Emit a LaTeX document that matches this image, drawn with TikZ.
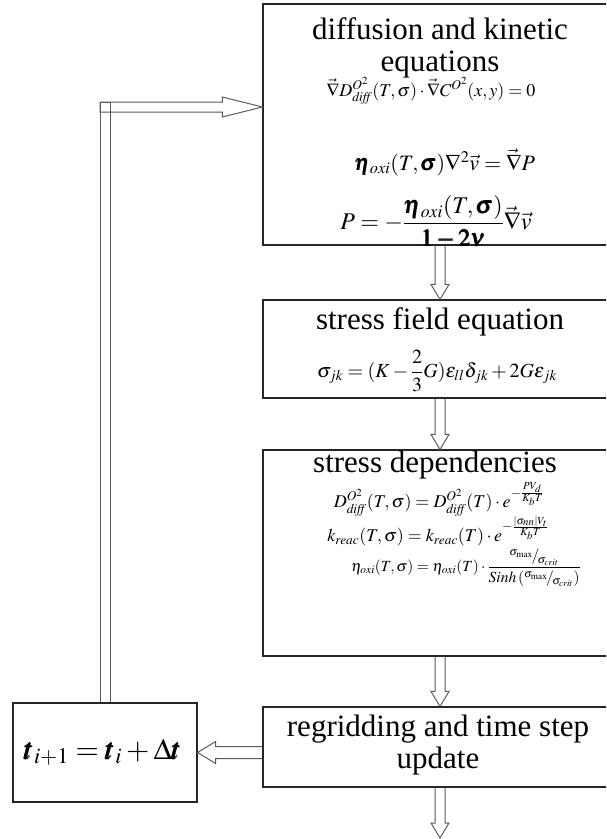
\documentclass[tikz,border=0pt]{standalone}
\usepackage{amsmath}
\usepackage{mathptmx}
\usepackage{fontspec}
\setmainfont{Liberation Serif}
\usetikzlibrary{calc}

\newcommand{\downflow}[2]{%
  \draw[flow] ($(#1)+(-5,0)$) -- ($(#2)+(-5,-15)$) -- ($(#2)+(-9,-15)$) -- (#2)
    -- ($(#2)+(9,-15)$) -- ($(#2)+(5,-15)$) -- ($(#1)+(5,0)$);}
\newcommand{\slfrac}[2]{{}^{#1}\!/\!{}_{#2}}

\begin{document}
\begin{tikzpicture}[x=1pt,y=-1pt,
  box/.style={draw=black!85,line width=1.2pt,minimum width=354pt},
  title/.style={font=\fontsize{31}{32}\selectfont,align=center,inner sep=0pt},
  eqn/.style={font=\fontsize{18}{20}\selectfont,inner sep=0pt},
  flow/.style={draw=black!65,line width=1pt}]
\useasboundingbox (0,0) rectangle (606,839);
\clip (0,0) rectangle (606,839);
\node[box,minimum height=241pt] (diff) at (440,124.5) {};
\node[box,minimum height=98pt] (field) at (440,349) {};
\node[box,minimum height=206pt] (depend) at (440,553) {};
\node[box,minimum height=80pt] (regrid) at (440,747) {};
\node[box,minimum width=184pt,minimum height=99pt] (tstep) at (105,752.5) {};

\node[title] (diffT) at (440,48) {diffusion and kinetic\\equations};
\node[eqn] (diffE1) at (431,91) {$\vec{\nabla}D^{O^2}_{\mathit{diff}}(T,\sigma)\cdot\vec{\nabla}C^{O^2}(x,y)=0$};
\node[eqn,font=\fontsize{22}{24}\selectfont] (diffE2) at (445,162) {$\pmb{\eta}_{oxi}(T,\pmb{\sigma})\nabla^2\vec{v}=\vec{\nabla}P$};
\node[eqn,font=\fontsize{24}{26}\selectfont] (diffE3) at (436,222) {$P=-\dfrac{\pmb{\eta}_{oxi}(T,\pmb{\sigma})}{\pmb{1-2\nu}}\vec{\nabla}\vec{v}$};
\node[title] (fieldT) at (440,322) {stress field equation};
\node[eqn,font=\fontsize{20}{22}\selectfont] (fieldE) at (437,371) {$\sigma_{jk}=(K-\dfrac{2}{3}G)\varepsilon_{ll}\delta_{jk}+2G\varepsilon_{jk}$};
\node[title] (dependT) at (435,465) {stress dependencies};
\node[eqn] (dependE1) at (439,499) {$D^{O^2}_{\mathit{diff}}(T,\sigma)=D^{O^2}_{\mathit{diff}}(T)\cdot e^{-\frac{PV_d}{K_bT}}$};
\node[eqn] (dependE2) at (438,531) {$k_{reac}(T,\sigma)=k_{reac}(T)\cdot e^{-\frac{|\sigma_{nn}|V_t}{K_bT}}$};
\node[eqn,font=\fontsize{15.5}{17}\selectfont] (dependE3) at (466,568) {$\eta_{oxi}(T,\sigma)=\eta_{oxi}(T)\cdot\dfrac{\slfrac{\sigma_{\max}}{\sigma_{crit}}}{\mathit{Sinh}\left(\slfrac{\sigma_{\max}}{\sigma_{crit}}\right)}$};
\node[title] (regridT) at (438,745) {regridding and time step\\update};
\node[font=\fontsize{30}{32}\selectfont,inner sep=0pt] (tstepT) at (103,752) {$\pmb{t}_{i+1}=\pmb{t}_i+\Delta\pmb{t}$};

\downflow{diff.south}{field.north}
\downflow{field.south}{depend.north}
\downflow{depend.south}{regrid.north}
\coordinate (exit) at (440,838);
\downflow{regrid.south}{exit}

\coordinate (back) at (regrid.west |- tstep.east);
\draw[flow] ($(back)+(0,-6)$) -- ($(tstep.east)+(18,-6)$) -- ($(tstep.east)+(18,-11)$) -- (tstep.east)
  -- ($(tstep.east)+(18,11)$) -- ($(tstep.east)+(18,6)$) -- ($(back)+(0,6)$);

\coordinate (hit) at ($(diff.west)+(0,-17.5)$);
\coordinate (turn) at (tstep.north |- hit);
\draw[flow] ($(tstep.north)+(-5,0)$) -- ($(turn)+(-5,-5)$) -- ($(turn)+(5,-5)$) -- ($(tstep.north)+(5,0)$);
\draw[flow] ($(turn)+(-5,-5)$) -- ($(hit)+(-40,-5)$) -- ($(hit)+(-40,-10)$) -- (hit)
  -- ($(hit)+(-40,10)$) -- ($(hit)+(-40,5)$) -- ($(turn)+(-5,5)$) -- cycle;
\end{tikzpicture}
\end{document}
